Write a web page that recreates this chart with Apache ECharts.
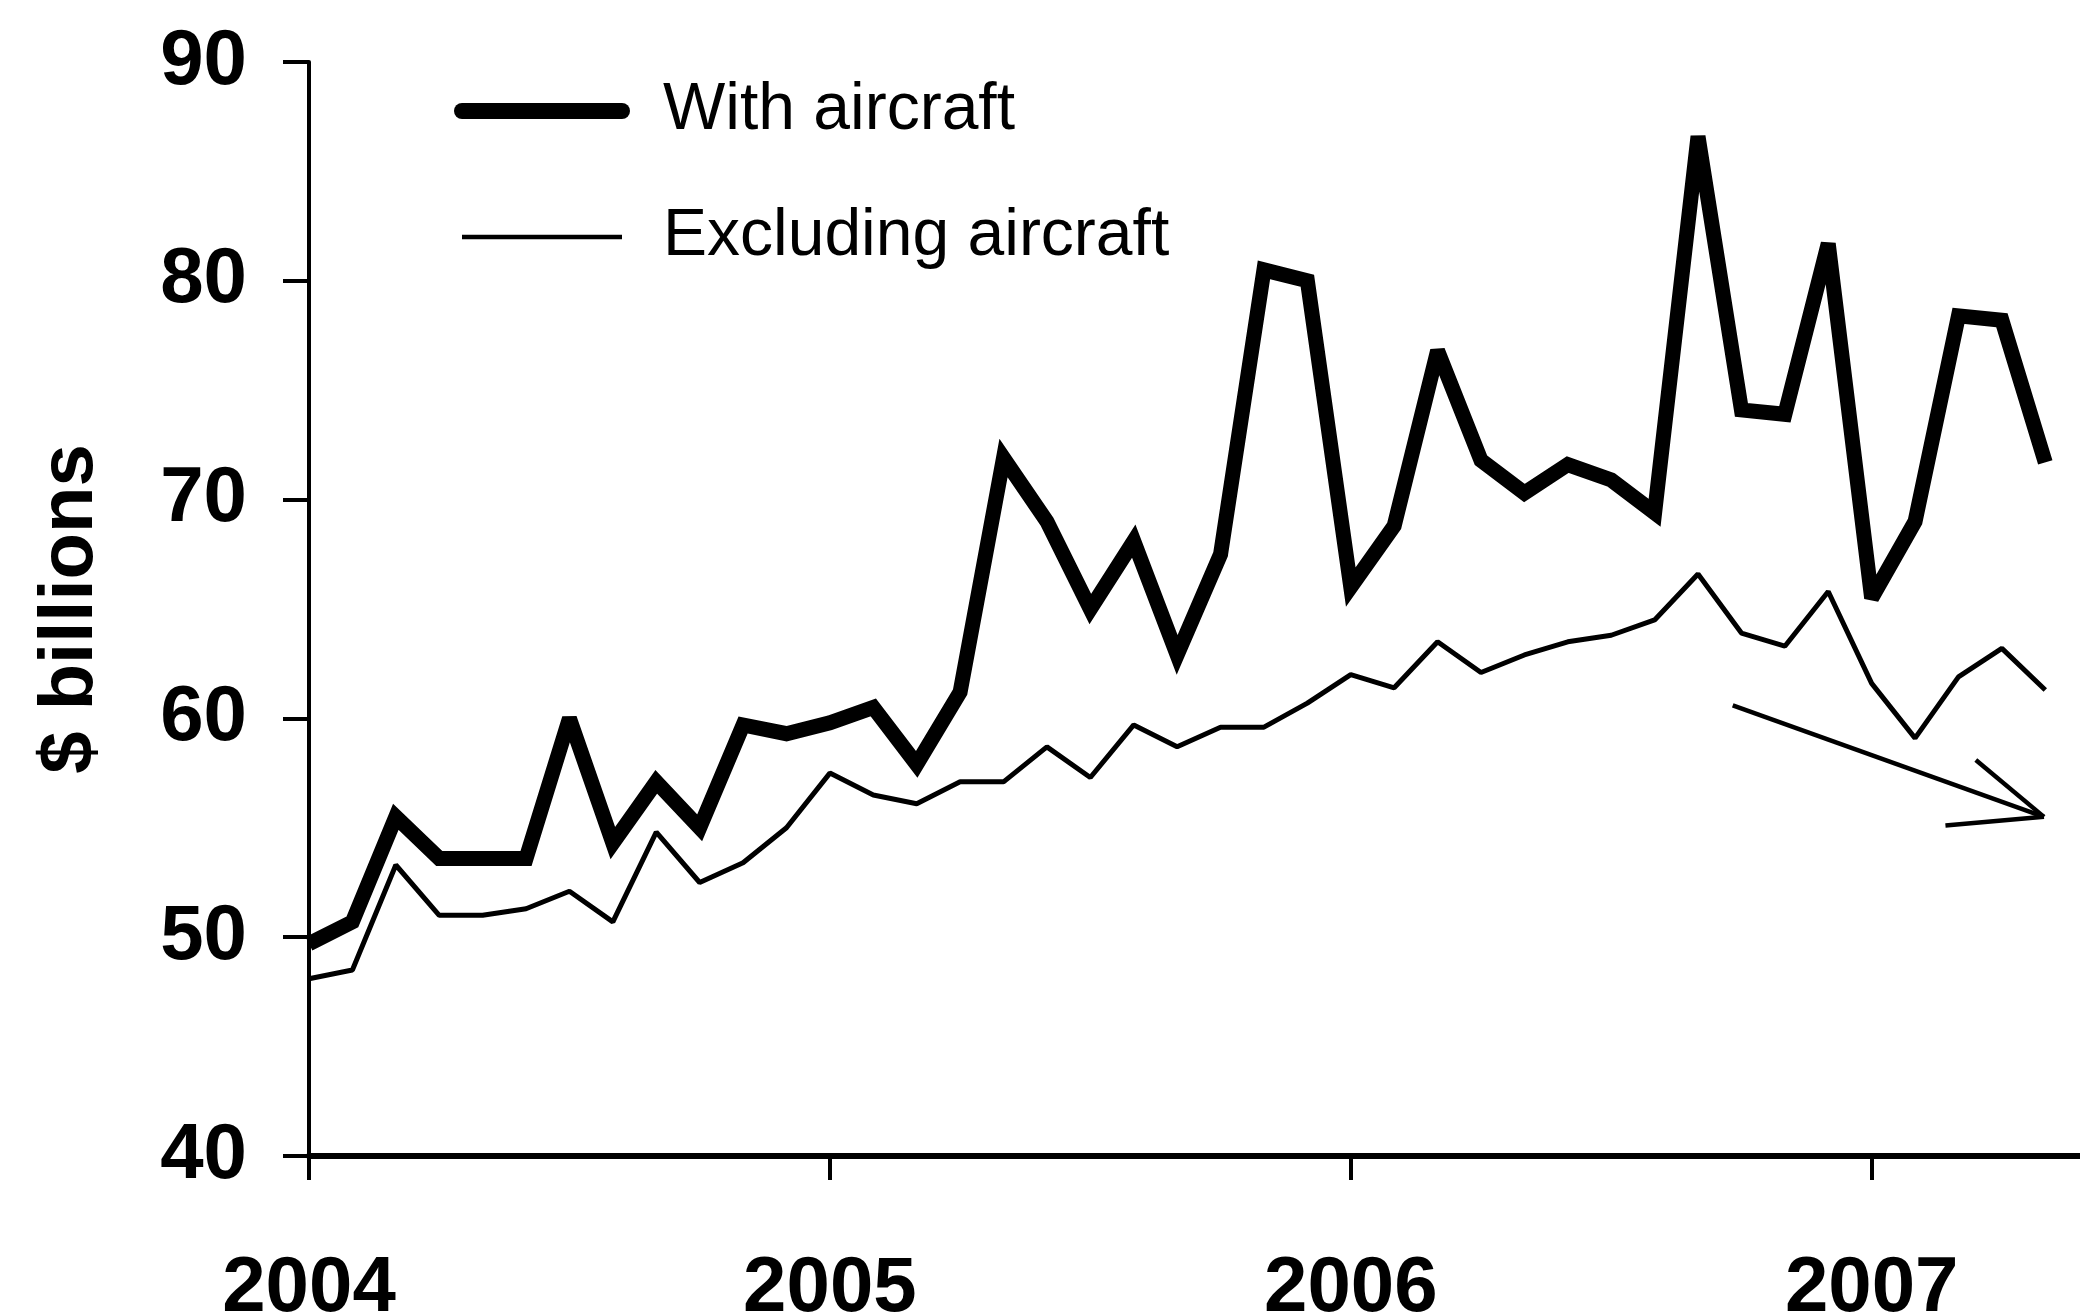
<!DOCTYPE html>
<html>
<head>
<meta charset="utf-8">
<script src="https://cdn.jsdelivr.net/npm/echarts@6/dist/echarts.min.js"></script>
<style>
html,body{margin:0;padding:0;background:#fff;}
#chart{width:2080px;height:1316px;}
</style>
</head>
<body>
<div id="chart"></div>
<script>
// Months since Jan 2004 (Jan 2004 .. May 2007)
const months = [0,1,2,3,4,5,6,7,8,9,10,11,12,13,14,15,16,17,18,19,20,21,22,23,24,25,26,27,28,29,30,31,32,33,34,35,36,37,38,39,40];
const withAircraft = [49.7,50.7,55.5,53.6,53.6,53.6,60.0,54.3,57.1,55.0,59.7,59.3,59.8,60.5,57.9,61.2,71.9,69.0,65.0,68.1,62.9,67.5,80.5,80.0,66.0,68.8,76.8,71.8,70.3,71.6,70.9,69.4,86.6,74.1,73.9,81.7,65.5,69.0,78.4,78.2,71.7];
const excludingAircraft = [48.1,48.5,53.3,51.0,51.0,51.3,52.1,50.7,54.8,52.5,53.4,55.0,57.5,56.5,56.1,57.1,57.1,58.7,57.3,59.7,58.7,59.6,59.6,60.7,62.0,61.4,63.5,62.1,62.9,63.5,63.8,64.5,66.6,63.9,63.3,65.8,61.6,59.1,61.9,63.2,61.3];
const yearTicks = [0,12,24,36];
const yearLabels = ['2004','2005','2006','2007'];
const seriesNames = ['With aircraft','Excluding aircraft'];
const yAxisTitle = '$ billions';
// hand-drawn arrow annotation, in data coordinates [month, value]
const arrowSegments = [
  [[32.8,60.6],[39.97,55.5]],
  [[38.4,58.1],[39.97,55.5]],
  [[37.7,55.1],[39.97,55.5]]
];

const font = 'Liberation Sans';
const chart = echarts.init(document.getElementById('chart'));
chart.setOption({
  backgroundColor:'#fff',
  animation:false,
  grid:{left:309,right:0,top:62,bottom:160,containLabel:false,outerBoundsMode:'none'},
  legend:{
    orient:'vertical',left:449,top:73,itemWidth:160,itemHeight:16,itemGap:60,
    textStyle:{fontFamily:font,fontSize:66,color:'#000',padding:[0,0,0,36]},
    itemStyle:{opacity:0},
    data:[
      {name:seriesNames[0],lineStyle:{width:16,cap:'round',color:'#000'}},
      {name:seriesNames[1],lineStyle:{width:4.5,color:'#000'}}
    ]
  },
  xAxis:{
    type:'value',min:0,max:40.8,interval:12,
    axisLine:{show:true,lineStyle:{color:'#000',width:6}},
    axisTick:{show:true,length:24,customValues:yearTicks,lineStyle:{color:'#000',width:4}},
    splitLine:{show:false},
    axisLabel:{margin:94,fontFamily:font,fontSize:78,fontWeight:'bold',color:'#000',
      customValues:yearTicks,
      formatter:v=>{const k=yearTicks.indexOf(Math.round(v));return k>=0?yearLabels[k]:'';}}
  },
  yAxis:{
    type:'value',min:40,max:90,interval:10,
    name:yAxisTitle,nameLocation:'middle',nameGap:200,
    nameTextStyle:{fontFamily:font,fontSize:76,fontWeight:'bold',color:'#000'},
    axisLine:{show:true,lineStyle:{color:'#000',width:4}},
    axisTick:{show:true,length:26,lineStyle:{color:'#000',width:4}},
    splitLine:{show:false},
    axisLabel:{margin:62,fontFamily:font,fontSize:78,fontWeight:'bold',color:'#000'}
  },
  series:[
    {name:seriesNames[0],type:'line',symbol:'none',
     data:months.map((m,i)=>[m,withAircraft[i]]),
     lineStyle:{color:'#000',width:15,join:'miter',miterLimit:3},itemStyle:{color:'#000'},z:3},
    {name:seriesNames[1],type:'line',symbol:'none',
     data:months.map((m,i)=>[m,excludingAircraft[i]]),
     lineStyle:{color:'#000',width:5},itemStyle:{color:'#000'},z:2,
     markLine:{silent:true,symbol:['none','none'],label:{show:false},
       lineStyle:{color:'#000',width:4.5,type:'solid'},
       emphasis:{disabled:true},
       data:arrowSegments.map(s=>[{coord:s[0]},{coord:s[1]}])}
    }
  ]
});
</script>
</body>
</html>
